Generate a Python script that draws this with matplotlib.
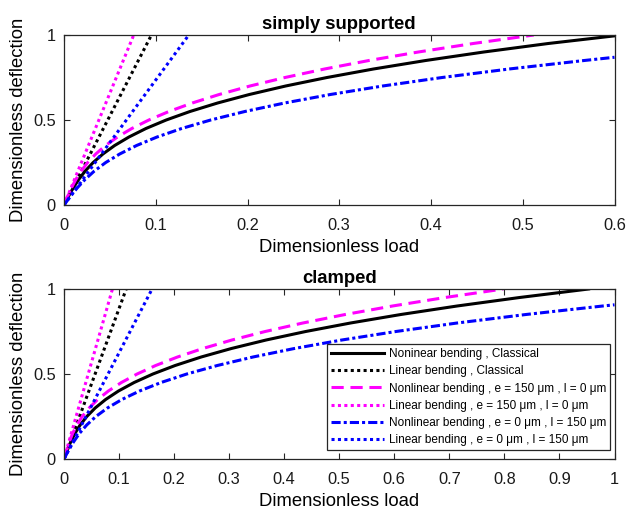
import matplotlib
matplotlib.use("Agg")
import matplotlib.pyplot as plt

plt.rcParams['font.family'] = ['Liberation Sans', 'DejaVu Sans']

# deflection levels at which the nonlinear curves were read
defl_levels = [0, 0.05, 0.1, 0.15, 0.2, 0.25, 0.3, 0.35, 0.4, 0.45, 0.5,
               0.55, 0.6, 0.65, 0.7, 0.75, 0.8, 0.85, 0.9, 0.95, 1.0]

# ---------------- data: simply supported ----------------
ss_load_nl_classical = [0, 0.0048, 0.0100, 0.0160, 0.0231, 0.0318, 0.0424, 0.0552, 0.0708, 0.0893, 0.1114,
                        0.1373, 0.1674, 0.2020, 0.2416, 0.2867, 0.3373, 0.3942, 0.4576, 0.5278, 0.6]
ss_defl_nl_classical = defl_levels[:-1] + [0.995]

ss_load_nl_e = [0, 0.0039, 0.0080, 0.0129, 0.0187, 0.0258, 0.0346, 0.0453, 0.0583, 0.0739, 0.0925,
                0.1143, 0.1398, 0.1691, 0.2027, 0.2409, 0.2840, 0.3324, 0.3862, 0.4460, 0.512]
ss_defl_nl_e = defl_levels

ss_load_nl_l = [0, 0.0069, 0.0143, 0.0229, 0.0331, 0.0455, 0.0607, 0.0791, 0.1014, 0.1282, 0.1599,
                0.1971, 0.2404, 0.2903, 0.3473, 0.4121, 0.4851, 0.5670, 0.6]
ss_defl_nl_l = defl_levels[:18] + [0.869]

ss_load_lin_classical = [0, 0.0953]
ss_load_lin_e = [0, 0.076]
ss_load_lin_l = [0, 0.136]
lin_defl = [0, 1.0]

# ---------------- data: clamped ----------------
cl_load_nl_classical = [0, 0.0058, 0.0121, 0.0198, 0.0293, 0.0414, 0.0566, 0.0756, 0.0990, 0.1274, 0.1615,
                        0.2019, 0.2492, 0.3041, 0.3672, 0.4391, 0.5205, 0.6119, 0.7141, 0.8276, 0.953]
cl_defl_nl_classical = defl_levels

cl_load_nl_e = [0, 0.0045, 0.0095, 0.0156, 0.0233, 0.0331, 0.0456, 0.0612, 0.0806, 0.1043, 0.1328,
                0.1665, 0.2062, 0.2522, 0.3051, 0.3655, 0.4339, 0.5108, 0.5968, 0.6923, 0.798]
cl_defl_nl_e = defl_levels

cl_load_nl_l = [0, 0.0081, 0.0172, 0.0279, 0.0412, 0.0579, 0.0789, 0.1051, 0.1373, 0.1763, 0.2231,
                0.2785, 0.3433, 0.4184, 0.5047, 0.6030, 0.7142, 0.8392, 0.9787, 1.0]
cl_defl_nl_l = defl_levels[:19] + [0.907]

cl_load_lin_classical = [0, 0.113]
cl_load_lin_e = [0, 0.088]
cl_load_lin_l = [0, 0.16]

labels = [
    "Noninear bending , Classical",
    "Linear bending , Classical",
    "Nonlinear bending , e = 150 \u03bcm , l = 0 \u03bcm",
    "Linear bending , e = 150 \u03bcm , l = 0 \u03bcm",
    "Nonlinear bending , e = 0 \u03bcm , l = 150 \u03bcm",
    "Linear bending , e = 0 \u03bcm , l = 150 \u03bcm",
]

top_xticks = [0, 0.1, 0.2, 0.3, 0.4, 0.5, 0.6]
top_xticklabels = ["0", "0.1", "0.2", "0.3", "0.4", "0.5", "0.6"]
bot_xticks = [0, 0.1, 0.2, 0.3, 0.4, 0.5, 0.6, 0.7, 0.8, 0.9, 1.0]
bot_xticklabels = ["0", "0.1", "0.2", "0.3", "0.4", "0.5", "0.6", "0.7", "0.8", "0.9", "1"]
yticks = [0, 0.5, 1]
yticklabels = ["0", "0.5", "1"]

MAG = '#ff00ff'
BLU = '#0000ff'
LW = 2.2
DOT = (0, (1, 1.1))
DASH = (0, (4, 2.2))
DASHDOT = (0, (3, 1, 1, 1))
AXC = '#262626'

fig = plt.figure(figsize=(6.3, 5.11), dpi=100)
ax1 = fig.add_axes([64/630, 1-205/511, 550.5/630, 170/511])
ax2 = fig.add_axes([64/630, 1-459/511, 550.5/630, 170/511])


def draw(ax, nlc, linc, nle, line, nll, linl):
    h = []
    h += ax.plot(nlc[0], nlc[1], color='k', lw=LW, ls='-')
    h += ax.plot(linc, lin_defl, color='k', lw=LW, ls=DOT)
    h += ax.plot(nle[0], nle[1], color=MAG, lw=LW, ls=DASH)
    h += ax.plot(line, lin_defl, color=MAG, lw=LW, ls=DOT)
    h += ax.plot(nll[0], nll[1], color=BLU, lw=LW, ls=DASHDOT)
    h += ax.plot(linl, lin_defl, color=BLU, lw=LW, ls=DOT)
    return h


def style(ax, xmax, xt, xtl, title):
    ax.set_xlim(0, xmax)
    ax.set_ylim(0, 1)
    ax.set_xticks(xt)
    ax.set_xticklabels(xtl)
    ax.set_yticks(yticks)
    ax.set_yticklabels(yticklabels)
    ax.tick_params(direction='in', length=4, width=0.8, top=True, right=True,
                   labelsize=11.8, colors=AXC, labelcolor='#1a1a1a')
    ax.tick_params(axis='x', pad=9)
    ax.tick_params(axis='y', pad=6)
    for s in ax.spines.values():
        s.set_linewidth(0.9)
        s.set_color(AXC)
    ax.set_xlabel("Dimensionless load", fontsize=13.3, labelpad=5)
    ax.set_ylabel("Dimensionless deflection", fontsize=13.3, labelpad=4)
    ax.set_title(title, fontsize=13.3, fontweight='bold', pad=4)


draw(ax1, (ss_load_nl_classical, ss_defl_nl_classical), ss_load_lin_classical,
     (ss_load_nl_e, ss_defl_nl_e), ss_load_lin_e,
     (ss_load_nl_l, ss_defl_nl_l), ss_load_lin_l)
style(ax1, 0.6, top_xticks, top_xticklabels, "simply supported")

handles = draw(ax2, (cl_load_nl_classical, cl_defl_nl_classical), cl_load_lin_classical,
               (cl_load_nl_e, cl_defl_nl_e), cl_load_lin_e,
               (cl_load_nl_l, cl_defl_nl_l), cl_load_lin_l)
style(ax2, 1.0, bot_xticks, bot_xticklabels, "clamped")

leg = ax2.legend(handles, labels, loc='lower right',
                 bbox_to_anchor=((610-64)/550.5, (459-450)/170),
                 borderaxespad=0, fontsize=8.5, handlelength=4.5,
                 handletextpad=0.45, labelspacing=0.45, borderpad=0.3,
                 fancybox=False, framealpha=1, edgecolor=AXC)
leg.get_frame().set_linewidth(0.9)

fig.savefig("out.png", dpi=100)
